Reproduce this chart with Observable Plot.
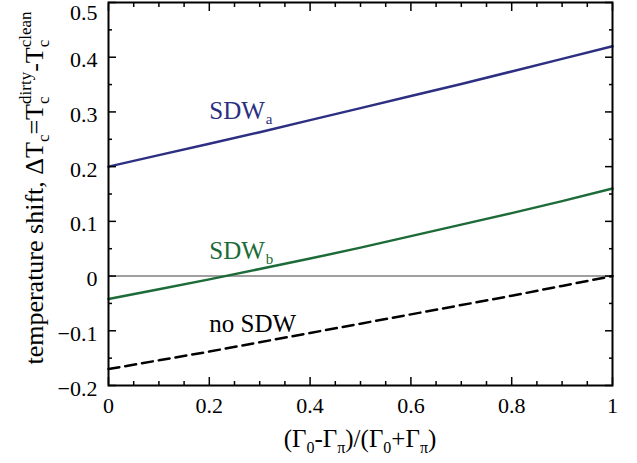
<!DOCTYPE html>
<html><head><meta charset="utf-8">
<script src="https://cdn.jsdelivr.net/npm/d3@7"></script>
<script src="https://cdn.jsdelivr.net/npm/@observablehq/plot@0.6"></script>
<style>body{margin:0;background:#fff;font-family:"Liberation Serif",serif} svg{display:block}</style>
</head><body><div id="chart"></div>
<script>
// x = (Γ0-Γπ)/(Γ0+Γπ)
const xs    = [0, 0.1, 0.2, 0.3, 0.4, 0.5, 0.6, 0.7, 0.8, 0.9, 1.0];
const sdwA  = [0.200, 0.221, 0.242, 0.263, 0.285, 0.307, 0.329, 0.351, 0.374, 0.397, 0.420];
const sdwB  = [-0.042, -0.024, -0.006, 0.013, 0.032, 0.052, 0.073, 0.094, 0.115, 0.137, 0.160];
const noSDW = [-0.170, -0.154, -0.138, -0.121, -0.104, -0.087, -0.070, -0.053, -0.036, -0.018, 0.000];

const xTicks = [0, 0.2, 0.4, 0.6, 0.8, 1];
const xMinor = [0.05, 0.1, 0.15, 0.25, 0.3, 0.35, 0.45, 0.5, 0.55, 0.65, 0.7, 0.75, 0.85, 0.9, 0.95];
const yTicks = [-0.2, -0.1, 0, 0.1, 0.2, 0.3, 0.4, 0.5];
const yMinor = [-0.15, -0.05, 0.05, 0.15, 0.25, 0.35, 0.45];

const colA = "#2c2f82", colB = "#1d6b38", colN = "#000000";
const labelNames = ["SDW", "SDW", "no SDW"];
const labelSubs  = ["a", "b", ""];
const labelX     = [0.2, 0.2, 0.2];
const labelY     = [0.287, 0.032, -0.103];
const labelCols  = [colA, colB, colN];

const toRows = ys => xs.map((x, i) => ({x, y: ys[i]}));
const labels = labelNames.map((n, i) => ({name: n, sub: labelSubs[i], x: labelX[i], y: labelY[i], color: labelCols[i]}));
const fmt = d => d < 0 ? "\u2212" + String(-d) : String(d);
const font = "Liberation Serif";

const svg = Plot.plot({
  width: 637, height: 463,
  marginLeft: 108, marginRight: 25, marginTop: 2, marginBottom: 78,
  style: {fontFamily: font, color: "black", background: "white"},
  x: {domain: [0, 1]},
  y: {domain: [-0.2, 0.5]},
  marks: [
    Plot.ruleY([0], {stroke: "#7f7f7f", strokeWidth: 1.5}),
    Plot.line(toRows(noSDW), {x: "x", y: "y", stroke: colN, strokeWidth: 2.5, strokeDasharray: "11,6"}),
    Plot.line(toRows(sdwB), {x: "x", y: "y", stroke: colB, strokeWidth: 2.5}),
    Plot.line(toRows(sdwA), {x: "x", y: "y", stroke: colA, strokeWidth: 2.5}),
    Plot.text(labels, {x: "x", y: "y", text: "name", fill: "color", textAnchor: "start", lineAnchor: "bottom", fontSize: 25}),
    // inward ticks on all four sides
    Plot.axisX(xTicks, {anchor: "bottom", tickSize: -8, text: null, label: null, strokeWidth: 1.5}),
    Plot.axisX(xMinor, {anchor: "bottom", tickSize: -4, text: null, label: null, strokeWidth: 1.5}),
    Plot.axisX(xTicks, {anchor: "top", tickSize: -8, text: null, label: null, strokeWidth: 1.5}),
    Plot.axisX(xMinor, {anchor: "top", tickSize: -4, text: null, label: null, strokeWidth: 1.5}),
    Plot.axisY(yTicks, {anchor: "left", tickSize: -8, text: null, label: null, strokeWidth: 1.5}),
    Plot.axisY(yMinor, {anchor: "left", tickSize: -4, text: null, label: null, strokeWidth: 1.5}),
    Plot.axisY(yTicks, {anchor: "right", tickSize: -8, text: null, label: null, strokeWidth: 1.5}),
    Plot.axisY(yMinor, {anchor: "right", tickSize: -4, text: null, label: null, strokeWidth: 1.5}),
    // tick labels
    Plot.axisX(xTicks, {anchor: "bottom", tickSize: 0, tickPadding: 12, tickFormat: fmt, fontSize: 22, label: null}),
    Plot.axisY(yTicks.slice(0, -1), {anchor: "left", tickSize: 0, tickPadding: 11, tickFormat: fmt, fontSize: 22, label: null, dy: 3}),
    Plot.axisY(yTicks.slice(-1), {anchor: "left", tickSize: 0, tickPadding: 11, tickFormat: fmt, fontSize: 22, label: null, dy: 10}),
    Plot.frame({stroke: "black", strokeWidth: 2})
  ]
});

const S = d3.select(svg);
S.attr("font-family", font);
// subscripts on series labels
S.selectAll('g[aria-label="text"] text').each(function(d, i) {
  const sub = labels[i] && labels[i].sub;
  if (sub) d3.select(this).append("tspan").attr("font-size", 15).attr("dy", 5).attr("dx", 1).text(sub);
});

// y axis label
const big = 26, small = 17;
const yl = S.append("text")
  .attr("transform", "translate(43,188) rotate(-90)")
  .attr("text-anchor", "middle")
  .attr("font-size", big).attr("fill", "black");
yl.append("tspan").text("temperature shift, \u0394T");
yl.append("tspan").attr("font-size", small).attr("dy", 6).text("c");
yl.append("tspan").attr("font-size", big).attr("dy", -6).text("=T");
yl.append("tspan").attr("font-size", small).attr("dy", 6).text("c");
yl.append("tspan").attr("font-size", small).attr("dx", -7.5).attr("dy", -18).text("dirty");
yl.append("tspan").attr("font-size", big).attr("dy", 12).text("-T");
yl.append("tspan").attr("font-size", small).attr("dy", 6).text("c");
yl.append("tspan").attr("font-size", small).attr("dx", -7.5).attr("dy", -18).text("clean");

// x axis label
const xl = S.append("text")
  .attr("x", 360).attr("y", 447)
  .attr("text-anchor", "middle")
  .attr("font-size", 25).attr("fill", "black");
const parts = [["(\u0393", "0"], ["-\u0393", "\u03c0"], [")/(\u0393", "0"], ["+\u0393", "\u03c0"], [")", null]];
parts.forEach(([t, s], i) => {
  xl.append("tspan").attr("font-size", 25).attr("dy", i === 0 ? 0 : -6).text(t);
  if (s) xl.append("tspan").attr("font-size", 16).attr("dy", 6).text(s);
});

S.selectAll("text, tspan").style("font-family", font);

document.getElementById("chart").appendChild(svg);
</script>
</body></html>
